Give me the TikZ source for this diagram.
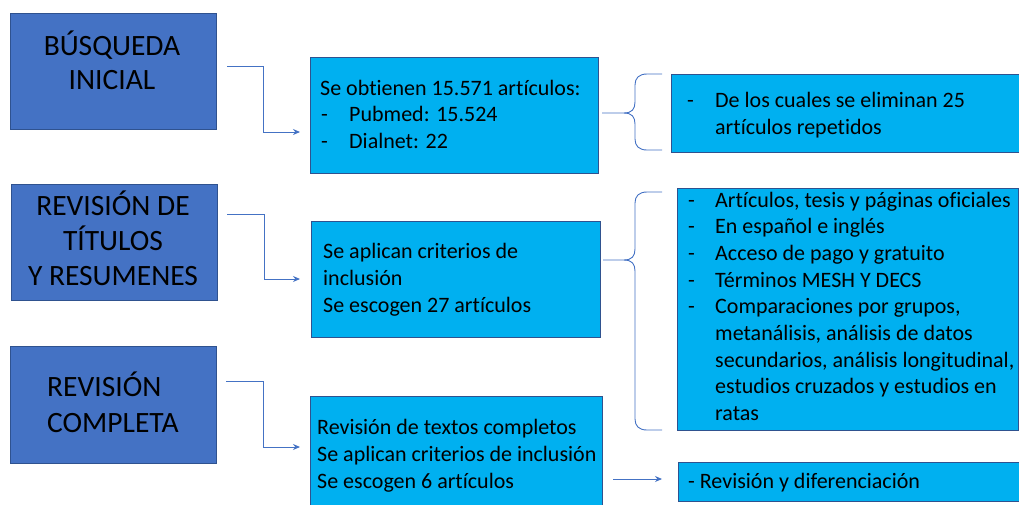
\documentclass[tikz,border=0pt]{standalone}
\usepackage{fontspec}
\setmainfont{Carlito}[Ligatures=NoCommon]
\usetikzlibrary{arrows.meta,calc}
\definecolor{darkbox}{HTML}{4472C4}
\definecolor{lightbox}{HTML}{00B0F0}
\definecolor{edge}{HTML}{2F528F}
\definecolor{link}{HTML}{4472C4}
\tikzset{
  dbox/.style={draw=edge,line width=0.8pt,fill=darkbox,inner sep=0pt},
  lbox/.style={draw=edge,line width=0.8pt,fill=lightbox,inner sep=0pt},
  big/.style={font=\fontsize{29.5}{35}\selectfont,inner sep=0pt,text=black},
  small/.style={font=\fontsize{22}{27}\selectfont,inner sep=0pt,text=black},
  conn/.style={draw=link,line width=0.9pt,-{Stealth[length=7pt,width=6pt]}},
  brace/.style={draw=link,line width=0.9pt},
}
\begin{document}
\begin{tikzpicture}[x=1pt,y=-1pt]
\useasboundingbox (0,0) rectangle (1019,504);
% dark boxes
\path[dbox] (10,13) rectangle (216,129);
\node (D1) at (113,71) {};
\path[dbox] (11,184) rectangle (217,300);
\node (D2) at (114,242) {};
\path[dbox] (10,346) rectangle (216,463);
\node (D3) at (113,404) {};
\node[big,anchor=base] (t11) at (112,55) {BÚSQUEDA};
\node[big,anchor=base] (t12) at (112,89) {INICIAL};
\node[big,anchor=base] (t21) at (113,215) {REVISIÓN DE};
\node[big,anchor=base] (t22) at (113,250) {TÍTULOS};
\node[big,anchor=base] (t23) at (113,285) {Y RESUMENES};
\node[big,anchor=base west] (t31) at (47,396) {REVISIÓN};
\node[big,anchor=base west] (t32) at (47,432) {COMPLETA};
% light boxes
\path[lbox] (310,57) rectangle (598,173);
\path[lbox] (311,221) rectangle (600,337);
\path[lbox] (310,396) rectangle (602,515);
\path[lbox] (671,74) rectangle (1030,152);
\path[lbox] (677,188) rectangle (1018,430);
\path[lbox] (678,462) rectangle (1030,501);
% L1 text
\node[small,anchor=base west] (a1) at (320,95) {Se obtienen 15.571 artículos:};
\node[small,anchor=base west] (a2d) at (321,121.5) {-};
\node[small,anchor=base west] (a2) at (349,121.5) {Pubmed: 15.524};
\node[small,anchor=base west] (a3d) at (321,148) {-};
\node[small,anchor=base west] (a3) at (349,148) {Dialnet: 22};
% L2 text
\node[small,anchor=base west] (b1) at (323,258) {Se aplican criterios de};
\node[small,anchor=base west] (b2) at (323,285) {inclusión};
\node[small,anchor=base west] (b3) at (323,312) {Se escogen 27 artículos};
% L3 text
\node[small,anchor=base west] (c1) at (317,434) {Revisión de textos completos};
\node[small,anchor=base west] (c2) at (317,461) {Se aplican criterios de inclusión};
\node[small,anchor=base west] (c3) at (317,488) {Se escogen 6 artículos};
% R1 text
\node[small,anchor=base west] (r1d) at (687,107) {-};
\node[small,anchor=base west] (r11) at (715,107) {De los cuales se eliminan 25};
\node[small,anchor=base west] (r12) at (715,134) {artículos repetidos};
% R2 text
\foreach \t [count=\i] in {{Artículos, tesis y páginas oficiales},{En español e inglés},{Acceso de pago y gratuito},{Términos MESH Y DECS},{Comparaciones por grupos,}}{
  \node[small,anchor=base west] (r2d\i) at (688,{207+26.7*(\i-1)}) {-};
  \node[small,anchor=base west] (r2l\i) at (715,{207+26.7*(\i-1)}) {\t};
}
\foreach \t [count=\i from 6] in {{metanálisis, análisis de datos},{secundarios, análisis longitudinal,},{estudios cruzados y estudios en},{ratas}}{
  \node[small,anchor=base west] (r2l\i) at (715,{207+26.7*(\i-1)}) {\t};
}
% R3 text
\node[small,anchor=base west] (r31) at (688,488) {- Revisión y diferenciación};
% elbow connectors
\coordinate (s1) at (227,66);  \coordinate (e1) at (300,132);
\coordinate (s2) at (227,214); \coordinate (e2) at (300,279);
\coordinate (s3) at (226,381); \coordinate (e3) at (300,447);
\draw[conn] (s1) -- (263,66) -- (263,132) -- (e1);
\draw[conn] (s2) -- (264,214) -- (264,279) -- (e2);
\draw[conn] (s3) -- (263,381) -- (263,447) -- (e3);
% braces
\draw[brace] (602,113) -- (624,113) .. controls (632,113) and (635,109) .. (635,102)
  -- (635,85) .. controls (635,78) and (639,74) .. (647,74) -- (662,74);
\draw[brace] (624,113) .. controls (632,113) and (635,117) .. (635,124)
  -- (635,139) .. controls (635,146) and (639,150) .. (647,150) -- (662,150);
\draw[brace] (603,260) -- (624,260) .. controls (632,260) and (635,256) .. (635,249)
  -- (635,203) .. controls (635,196) and (639,192) .. (647,192) -- (662,192);
\draw[brace] (624,260) .. controls (632,260) and (635,264) .. (635,271)
  -- (635,419) .. controls (635,426) and (639,430) .. (647,430) -- (662,430);
% last arrow
\coordinate (s4) at (613,479); \coordinate (e4) at (662,479);
\draw[conn] (s4) -- (e4);
\end{tikzpicture}
\end{document}
